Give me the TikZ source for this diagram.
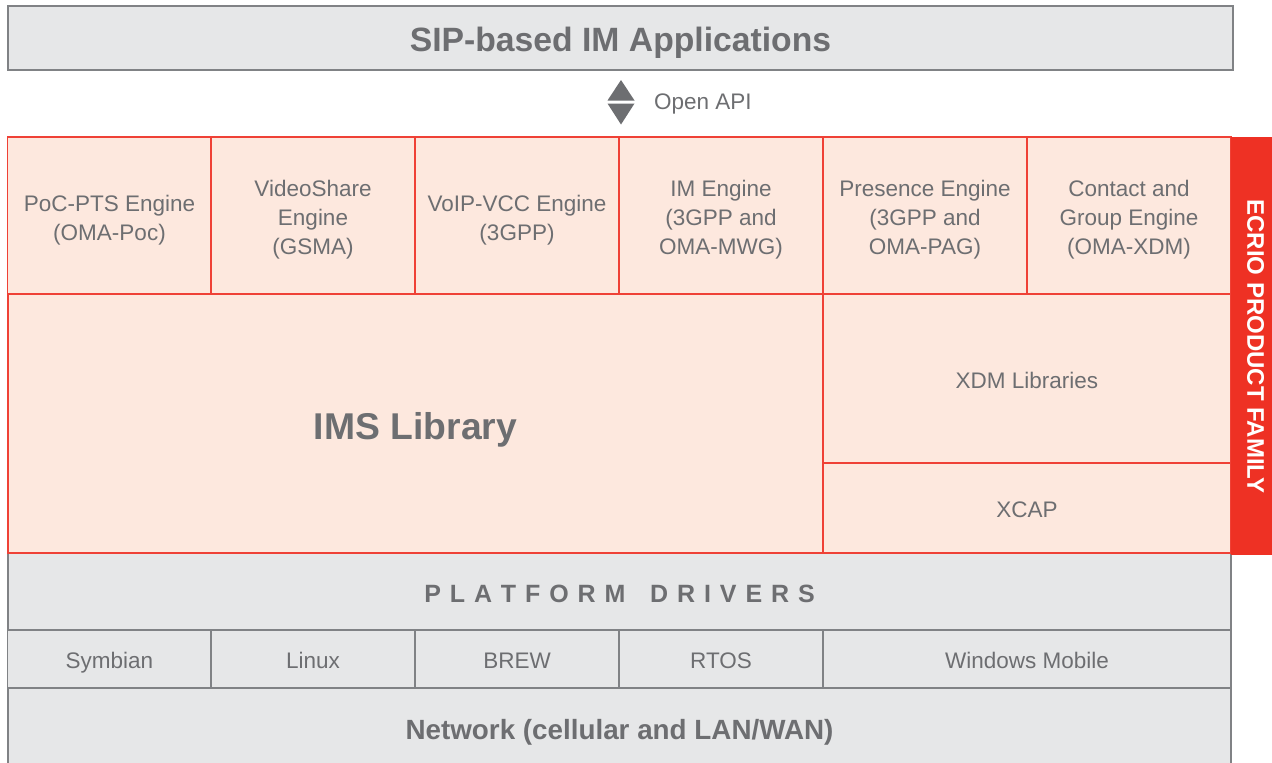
\documentclass[tikz,border=0pt]{standalone}
\usepackage{fontspec}
\setmainfont{Liberation Sans}
\definecolor{graybg}{HTML}{E6E7E8}
\definecolor{grayline}{HTML}{808285}
\definecolor{txt}{HTML}{6D6E71}
\definecolor{redline}{HTML}{EF4136}
\definecolor{redfill}{HTML}{FDE8DE}
\definecolor{redbar}{HTML}{EE3124}
\newcommand\lsp{\kern8.9pt}
\begin{document}
\begin{tikzpicture}[x=1pt,y=-1pt,
  box/.style={draw, line width=1.5pt, inner sep=0pt, align=center,
    font=\fontsize{22.5}{29}\selectfont, text=txt},
  oneline/.style={text height=#1, text depth=0pt},
  oneline/.default=19.2pt,
  graybox/.style={box, oneline, draw=grayline, fill=graybg},
  redbox/.style={box, oneline, draw=redline, fill=redfill},
  eng/.style={box, draw=redline, fill=redfill, minimum width=204, minimum height=157},
  engtxt/.style={inner sep=0pt, align=center, font=\fontsize{22.5}{29}\selectfont, text=txt},
  osbox/.style={graybox, minimum width=204, minimum height=58},
  boldtxt/.style={font=\bfseries\fontsize{#1}{#1}\selectfont}
]
\useasboundingbox (0,0) rectangle (1272,763);
\clip (0,0) rectangle (1272,763);
\fill[white] (0,0) rectangle (1272,763);

% top application layer
\node[graybox, minimum width=1225, minimum height=64, boldtxt=33.7, oneline=26.8pt] (sip) at (620.5,38) {SIP-based IM Applications};

% Open API arrow
\coordinate (apitop) at (621,80);
\coordinate (apibot) at (621,124.5);
\fill[txt] (apitop) -- (634.5,100.5) -- (607.5,100.5) -- cycle;
\fill[txt] (apibot) -- (634.5,103.5) -- (607.5,103.5) -- cycle;
\node[anchor=base west, font=\fontsize{22.5}{29}\selectfont, text=txt, inner sep=0pt] (api) at (654,109) {Open API};

% lower gray layers
\node[graybox, minimum width=1223, minimum height=77, font=\bfseries\fontsize{25}{25}\selectfont, oneline=21pt] (plat) at (619.5,591.5)
  {P\lsp L\lsp A\lsp T\lsp F\lsp O\lsp R\lsp M\lsp\ \lsp D\lsp R\lsp I\lsp V\lsp E\lsp R\lsp S};
\node[osbox] (sym) at (109.5,659) {Symbian};
\node[osbox] (lin) at (313,659) {Linux};
\node[osbox] (brew) at (517,659) {BREW};
\node[osbox] (rtos) at (721,659) {RTOS};
\node[graybox, minimum width=408, minimum height=58] (win) at (1027,659) {Windows Mobile};
\node[graybox, minimum width=1223, minimum height=82, boldtxt=27.8, oneline=21pt] (net) at (619.5,729) {Network (cellular and LAN/WAN)};

% engines
\node[eng] (poc) at (109.5,215.5) {};
\node[eng] (vs) at (313,215.5) {};
\node[eng] (voip) at (517,215.5) {};
\node[eng] (im) at (721,215.5) {};
\node[eng] (pres) at (925,215.5) {};
\node[eng] (cont) at (1129,215.5) {};
\node[engtxt] (poct) at ([yshift=-4.5pt]poc.center) {PoC-PTS Engine\\(OMA-Poc)};
\node[engtxt] (vst) at ([yshift=-4.5pt]vs.center) {VideoShare\\Engine\\(GSMA)};
\node[engtxt] (voipt) at ([yshift=-4.5pt]voip.center) {VoIP-VCC Engine\\(3GPP)};
\node[engtxt] (imt) at ([yshift=-4.5pt]im.center) {IM Engine\\(3GPP and\\OMA-MWG)};
\node[engtxt] (prest) at ([yshift=-4.5pt]pres.center) {Presence Engine\\(3GPP and\\OMA-PAG)};
\node[engtxt] (contt) at ([yshift=-4.5pt]cont.center) {Contact and\\Group Engine\\(OMA-XDM)};

% libraries
\node[redbox, minimum width=815, minimum height=259, boldtxt=37.3, oneline=31pt] (ims) at (415.5,423.5) {IMS Library};
\node[redbox, minimum width=408, minimum height=169] (xdm) at (1027,378.5) {XDM Libraries};
\node[redbox, minimum width=408, minimum height=90] (xcap) at (1027,508) {XCAP};

% side bar
\node[fill=redbar, minimum width=41, minimum height=418, inner sep=0pt] (bar) at (1251.5,346) {};
\node[rotate=-90, text=white, boldtxt=24, inner sep=0pt, text height=17.3pt, text depth=0pt] (barlbl) at (1256,346.5) {ECRIO PRODUCT FAMILY};
\end{tikzpicture}
\end{document}
